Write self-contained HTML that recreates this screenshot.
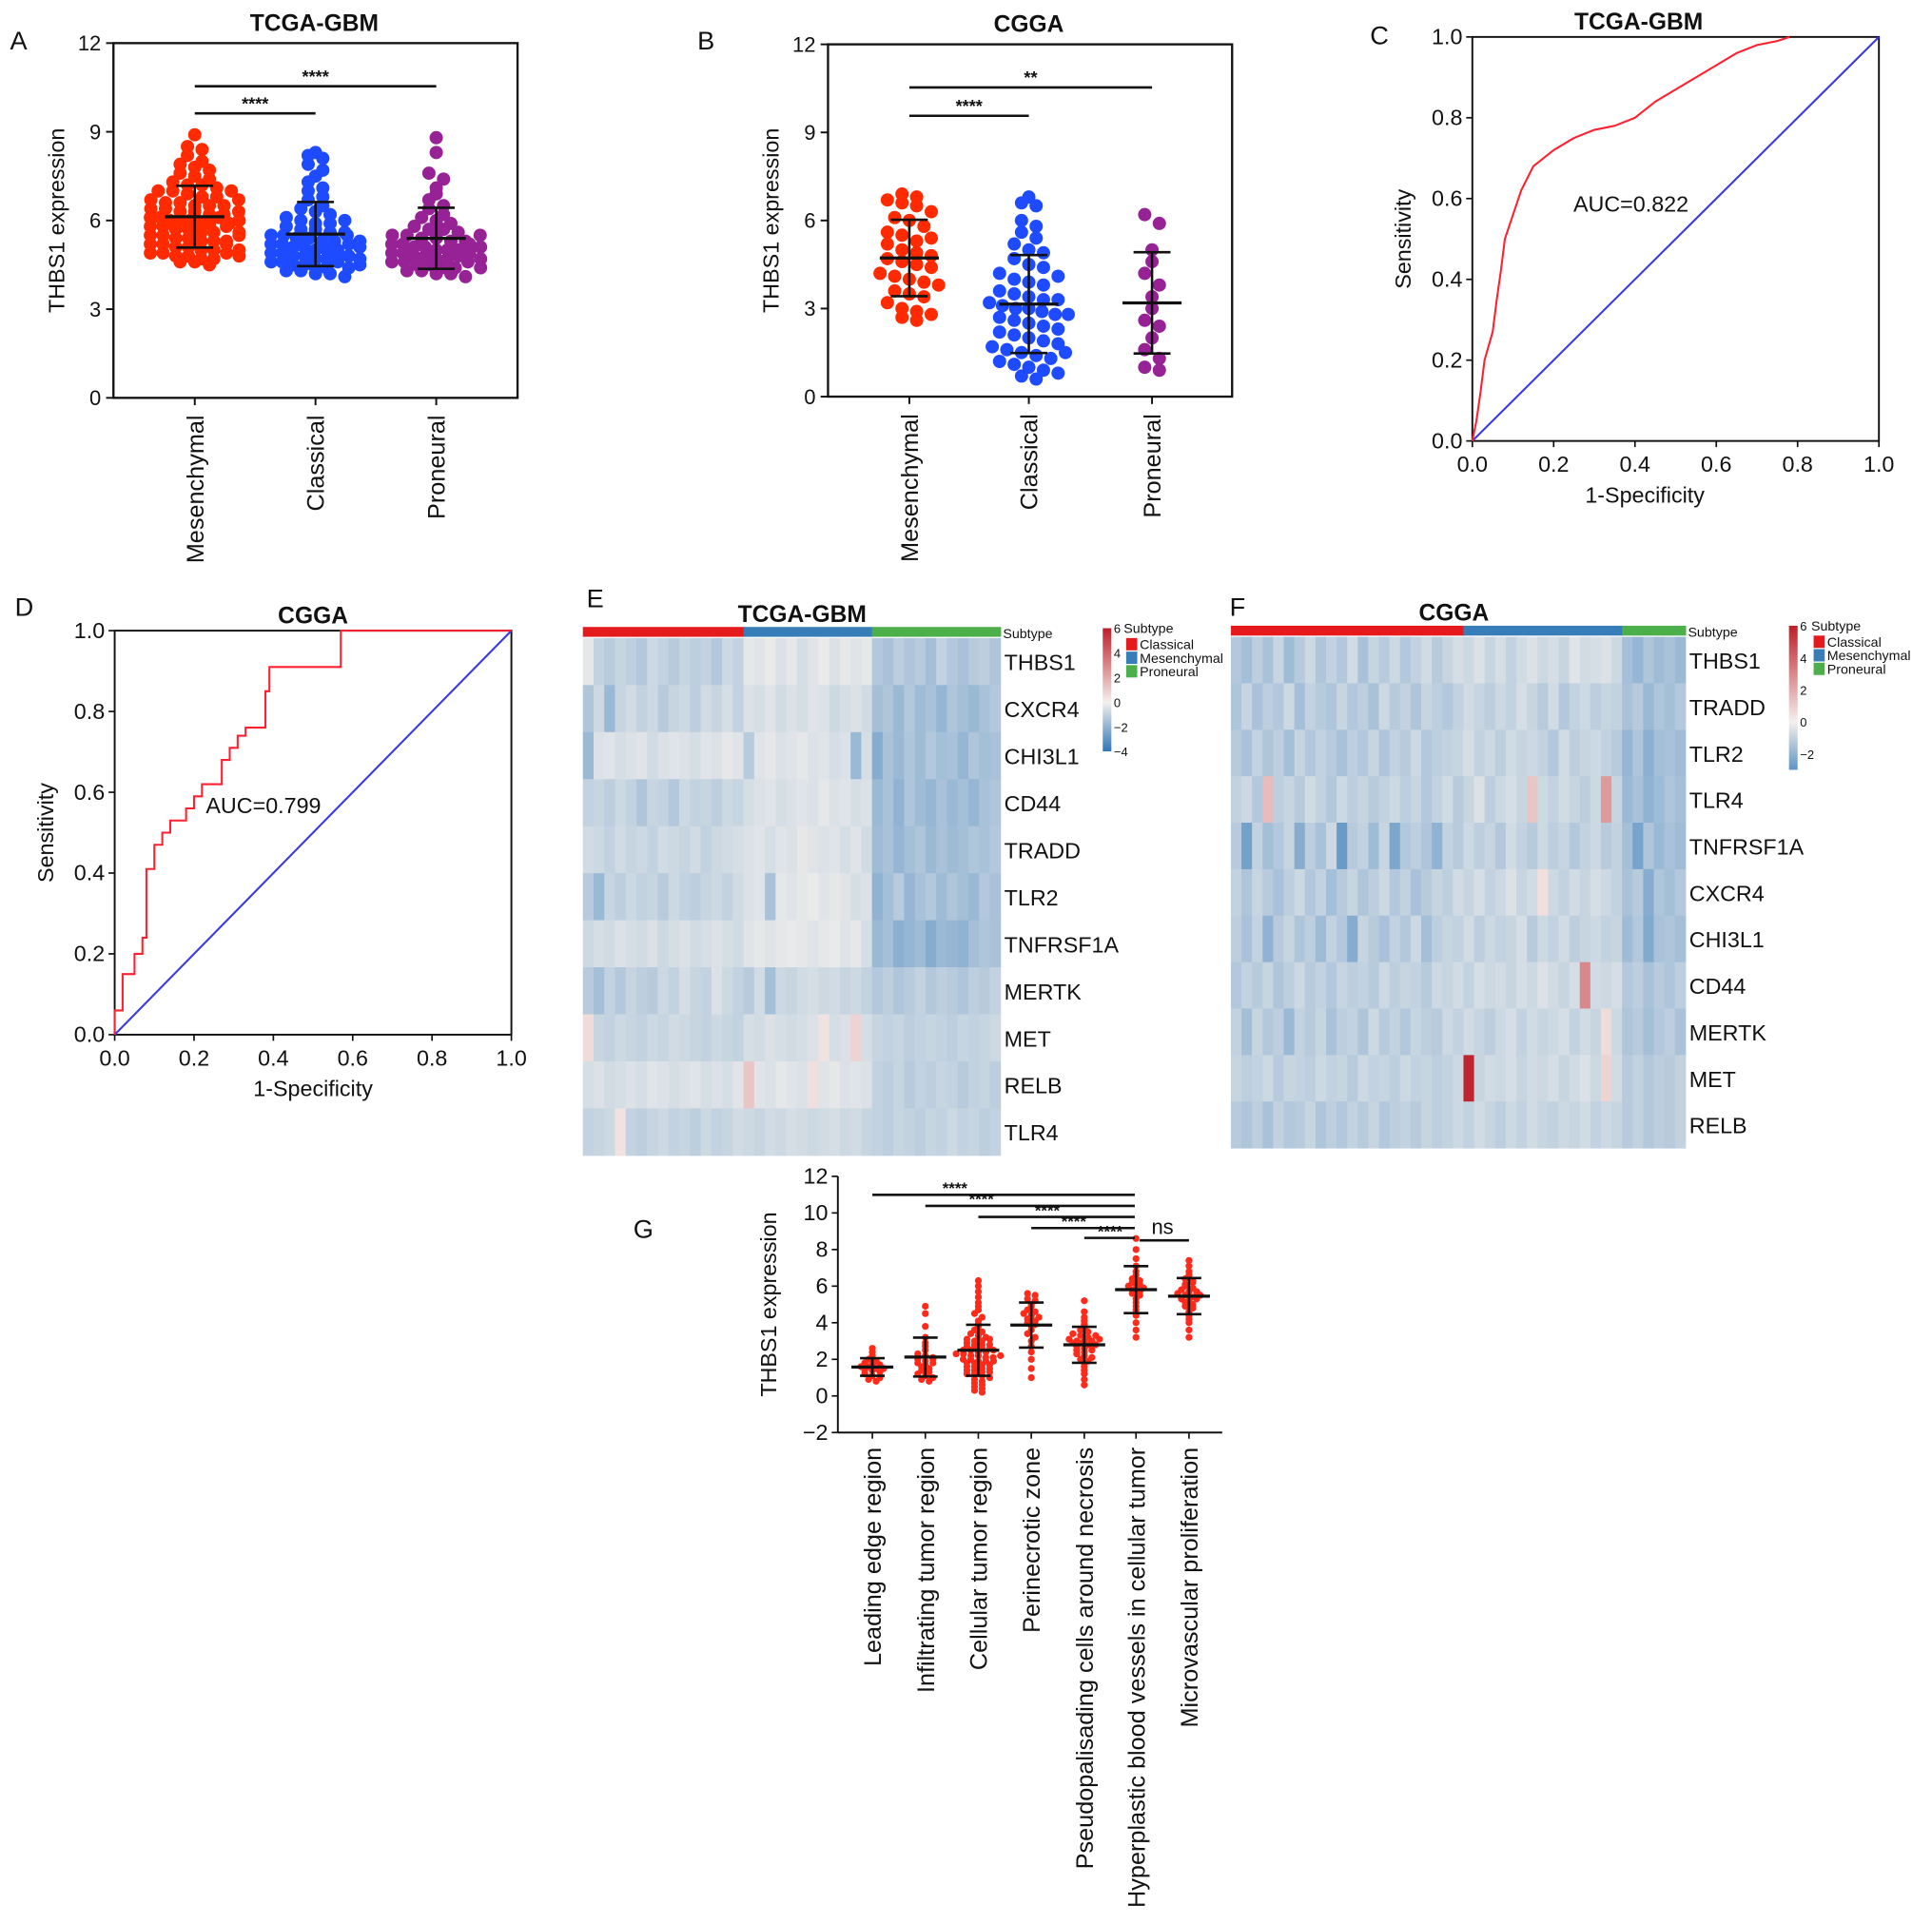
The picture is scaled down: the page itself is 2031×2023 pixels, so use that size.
<!DOCTYPE html>
<html><head><meta charset="utf-8"><style>
html,body{margin:0;padding:0;background:#fff;}
svg{display:block;font-family:"Liberation Sans",Arial,sans-serif;}
</style></head><body>
<svg id="fig" xmlns="http://www.w3.org/2000/svg" width="2031" height="2023" viewBox="0 0 1568 1562">
<rect width="1568" height="1562" fill="#fff"/>
</svg>
<script>
// ---------- DATA ----------
const catsAB = ["Mesenchymal","Classical","Proneural"];
const aMes = [8.9,8.5,8.4,8.2,8.0,7.9,7.8,7.7,7.6,7.5,7.4,7.3,7.2,7.2,7.1,7.0,7.0,6.9,6.8,6.8,6.7,6.6,6.6,6.5,6.5,6.4,6.4,6.3,6.3,6.2,6.2,6.1,6.1,6.0,6.0,6.0,5.9,5.9,5.8,5.8,5.7,5.7,5.6,5.6,5.5,5.5,5.4,5.4,5.3,5.3,5.2,5.2,5.1,5.1,5.0,5.0,4.9,4.9,4.8,4.8,4.7,4.7,4.6,4.6,4.5,5.8,6.5,6.1,5.6,5.3,4.9,6.7,7.0,5.5,6.3,5.9,5.2,4.8,5.0,6.0];
const aCla = [8.3,8.2,8.1,7.9,7.7,7.5,7.3,7.1,7.0,6.8,6.7,6.5,6.4,6.3,6.2,6.1,6.0,5.9,5.9,5.8,5.7,5.7,5.6,5.5,5.5,5.4,5.4,5.3,5.3,5.2,5.2,5.1,5.1,5.0,5.0,4.9,4.9,4.8,4.8,4.7,4.7,4.6,4.6,4.5,4.5,4.4,4.4,4.3,4.3,4.2,4.2,4.1,5.0,5.2,4.9,5.5,4.6,4.8,5.1,5.3,4.4,4.7,5.6,6.0,4.5];
const aPro = [8.8,8.3,7.6,7.4,7.1,6.9,6.7,6.5,6.4,6.2,6.1,6.0,5.9,5.8,5.7,5.7,5.6,5.5,5.5,5.4,5.4,5.3,5.3,5.2,5.2,5.1,5.1,5.0,5.0,4.9,4.9,4.8,4.8,4.7,4.7,4.6,4.6,4.5,4.5,4.4,4.4,4.3,4.3,4.2,4.2,4.1,5.0,4.8,5.2,4.6,4.9,5.5,4.4,5.1,4.7];
const bMes = [6.9,6.8,6.7,6.6,6.5,6.3,6.1,6.0,5.8,5.6,5.5,5.3,5.2,5.0,4.9,4.8,4.7,4.6,4.5,4.4,4.2,4.1,4.0,3.9,3.8,3.6,3.5,3.4,3.2,3.0,2.9,2.8,2.7,2.6,5.4];
const bCla = [6.8,6.6,6.5,6.0,5.8,5.6,5.4,5.2,5.0,4.9,4.7,4.5,4.4,4.2,4.0,3.9,3.8,3.6,3.5,3.4,3.3,3.2,3.1,3.0,3.0,2.9,2.8,2.7,2.6,2.5,2.4,2.3,2.2,2.1,2.0,1.9,1.8,1.7,1.6,1.5,1.4,1.3,1.2,1.1,1.0,0.9,0.8,0.7,0.6,3.3,2.8,1.5,4.1];
const bPro = [6.2,5.9,5.0,4.6,4.2,3.8,3.4,3.0,2.6,2.4,2.0,1.6,1.3,1.0,0.9];
const rocCfpr = [0,0.01,0.02,0.03,0.05,0.06,0.07,0.08,0.10,0.12,0.15,0.20,0.25,0.30,0.35,0.40,0.45,0.50,0.55,0.60,0.65,0.70,0.75,0.78];
const rocCtpr = [0,0.05,0.12,0.20,0.27,0.35,0.42,0.50,0.56,0.62,0.68,0.72,0.75,0.77,0.78,0.80,0.84,0.87,0.90,0.93,0.96,0.98,0.99,1.0];
const rocDfpr = [0,0.02,0.05,0.07,0.08,0.10,0.12,0.14,0.18,0.20,0.22,0.27,0.29,0.31,0.33,0.38,0.39,0.57,1.0];
const rocDtpr = [0.06,0.15,0.20,0.24,0.41,0.47,0.50,0.53,0.56,0.59,0.62,0.68,0.71,0.74,0.76,0.85,0.91,1.0,1.0];
const genesE = ["THBS1","CXCR4","CHI3L1","CD44","TRADD","TLR2","TNFRSF1A","MERTK","MET","RELB","TLR4"];
const genesF = ["THBS1","TRADD","TLR2","TLR4","TNFRSF1A","CXCR4","CHI3L1","CD44","MERTK","MET","RELB"];
const subtypesE = ["Classical","Mesenchymal","Proneural"];
const subtypeCountsE = [15,12,12];
const subtypeCountsF = [22,15,6];
const heatE = [
[-0.3,-1,-1.2,-0.9,-1.1,-1.3,-0.8,-1,-1.2,-0.9,-1.1,-1,-1.3,-0.8,-1,-0.3,-0.4,-0.2,-0.5,-0.3,-0.6,-0.4,-0.2,-0.5,-0.3,-0.4,-0.3,-1.3,-1.5,-1.1,-1.4,-1.2,-1.6,-1.0,-1.3,-1.5,-1.2,-1.1,-1.4],
[-1.4,-0.8,-1.8,-0.9,-0.7,-1,-0.8,-1.2,-0.9,-0.8,-1.1,-0.7,-0.9,-0.6,-1,-0.5,-0.6,-0.4,-0.7,-0.5,-0.6,-0.4,-0.5,-0.8,-0.6,-0.5,-0.7,-1.6,-1.4,-1.8,-1.3,-1.7,-1.5,-1.9,-1.4,-1.6,-1.8,-1.5,-1.3],
[-1.8,-0.5,-0.4,-0.6,-0.5,-0.4,-0.7,-0.5,-0.4,-0.5,-0.6,-0.4,-0.5,-0.3,-0.4,-1.2,-0.4,-0.3,-0.5,-0.4,-0.3,-0.5,-0.4,-0.6,-0.5,-1.8,-0.6,-2.2,-1.5,-1.8,-1.4,-1.7,-1.3,-1.6,-1.5,-1.9,-1.4,-1.6,-1.5],
[-1.0,-0.9,-1.1,-0.8,-1.0,-1.4,-0.9,-1,-1.3,-0.8,-1,-0.9,-1.1,-0.8,-0.9,-0.6,-0.5,-0.4,-0.6,-0.5,-0.4,-0.5,-0.3,-0.5,-0.4,-0.6,-0.5,-1.8,-1.5,-2.0,-1.4,-1.7,-1.9,-1.5,-1.8,-1.6,-1.9,-1.5,-1.4],
[-0.7,-0.8,-1.0,-0.7,-0.9,-0.8,-1.0,-0.7,-0.8,-0.9,-0.7,-1.0,-0.8,-0.7,-0.6,-0.5,-0.4,-0.6,-0.4,-0.5,-0.3,-0.4,-0.5,-0.4,-0.6,-0.4,-0.7,-1.7,-1.5,-1.9,-1.6,-1.4,-1.8,-1.5,-1.7,-1.6,-1.4,-1.5,-1.3],
[-1.2,-1.8,-0.9,-1.1,-0.8,-1.0,-0.9,-1.2,-0.8,-1.0,-1.1,-0.9,-0.8,-1.0,-0.7,-0.5,-0.4,-1.5,-0.3,-0.4,-0.3,-0.2,-0.4,-0.3,-0.4,-0.6,-0.5,-2.0,-1.6,-1.2,-1.9,-1.5,-1.3,-1.7,-1.4,-1.6,-1.8,-1.3,-1.5],
[-0.8,-0.6,-0.7,-0.5,-0.6,-0.7,-0.5,-0.8,-0.6,-0.5,-0.7,-0.6,-0.5,-0.6,-0.7,-0.4,-0.3,-0.4,-0.3,-0.2,-0.3,-0.4,-0.3,-0.2,-0.4,-0.3,-0.6,-1.8,-1.6,-2.1,-1.9,-1.7,-2.2,-1.8,-1.9,-2.0,-1.6,-1.4,-1.5],
[-1.2,-1.6,-1.0,-1.3,-0.9,-1.1,-1.2,-0.8,-1.0,-0.6,-0.9,-1.0,-0.5,-0.8,-1.0,-1.2,-0.7,-1.6,-0.8,-0.9,-0.7,-0.6,-0.8,-0.7,-0.9,-0.8,-1.0,-1.3,-1.1,-1.4,-1.2,-1.0,-1.3,-1.1,-1.2,-1.4,-1.1,-1.2,-1.0],
[0.6,-0.9,-1.0,-0.8,-0.9,-1.0,-0.8,-0.9,-0.7,-0.8,-0.9,-1.0,-0.8,-0.9,-1.0,-0.6,-0.7,-0.5,-0.6,-0.7,-0.6,-0.5,0.4,-0.6,-0.5,0.8,-0.6,-0.9,-1.0,-0.9,-1.1,-1.0,-0.9,-1.0,-1.1,-0.9,-1.0,-0.9,-0.8],
[-0.6,-0.5,-0.7,-0.6,-0.5,-0.6,-0.4,-0.5,-0.6,-0.5,-0.4,-0.6,-0.5,-0.6,-0.4,1.2,-0.4,-0.5,-0.3,-0.4,-0.5,0.5,-0.4,-0.3,-0.5,-0.4,-0.5,-1.0,-1.1,-0.9,-1.2,-1.0,-1.1,-0.9,-1.0,-1.2,-1.0,-0.9,-1.1],
[-1.0,-0.9,-0.8,0.4,-1.0,-1.1,-0.9,-0.8,-1.0,-0.9,-1.1,-0.8,-1.0,-0.9,-0.7,-0.8,-0.9,-0.7,-0.8,-0.6,-0.7,-0.8,-0.7,-0.6,-0.8,-0.7,-0.9,-1.0,-1.1,-0.9,-1.0,-1.1,-0.9,-1.0,-0.8,-1.0,-0.9,-1.1,-1.0]
];
const heatF = [
[-1.3,-1.6,-1.1,-1.5,-0.9,-1.7,-1.2,-0.8,-1.4,-1.0,-1.3,-0.7,-1.5,-0.9,-1.2,-0.8,-1.3,-1.0,-0.7,-1.2,-0.9,-0.6,-0.8,-0.5,-0.9,-0.6,-1.0,-0.7,-0.5,-0.8,-0.6,-0.9,-0.4,-0.7,-0.6,-0.5,-0.8,-1.6,-1.9,-1.4,-1.7,-1.5,-1.8],
[-1.4,-0.9,-1.5,-1.1,-1.3,-0.8,-1.6,-1.0,-1.2,-1.4,-0.9,-1.3,-1.1,-1.5,-0.8,-1.2,-1.0,-1.4,-0.9,-1.1,-1.3,-1.0,-0.7,-0.9,-1.1,-0.8,-1.0,-0.6,-0.9,-1.2,-0.7,-1.3,-1.0,-0.8,-1.1,-0.9,-1.0,-1.5,-1.2,-1.8,-1.4,-1.6,-1.3],
[-1.2,-1.5,-1.0,-1.4,-1.1,-1.6,-0.9,-1.3,-1.0,-1.2,-1.5,-1.1,-1.3,-0.9,-1.4,-1.0,-1.2,-0.8,-1.3,-1.1,-1.0,-0.9,-0.6,-1.0,-0.8,-1.1,-0.7,-0.9,-0.8,-1.0,-1.3,-0.7,-1.1,-0.9,-0.8,-1.0,-1.2,-1.9,-1.4,-2.1,-1.6,-1.5,-1.7],
[-1.0,-0.8,-1.3,1.5,-1.1,-0.9,-1.2,-0.7,-1.0,-1.3,-0.8,-1.1,-0.9,-1.2,-1.0,-0.8,-1.1,-0.9,-1.3,-1.0,-0.7,-1.2,-0.9,-0.5,-1.1,-0.8,-0.6,-0.9,1.2,-0.8,-1.0,-0.7,-0.9,-1.1,-0.8,2.5,-0.9,-1.8,-1.5,-2.0,-1.7,-1.4,-1.6],
[-1.2,-2.6,-1.0,-1.6,-1.3,-0.9,-2.2,-1.1,-1.5,-0.8,-2.8,-1.2,-1.0,-1.7,-0.9,-2.4,-1.3,-1.1,-1.4,-2.0,-1.0,-1.2,-0.8,-1.1,-0.9,-1.3,-0.7,-1.0,-1.2,-0.8,-1.1,-0.9,-1.3,-1.0,-0.8,-1.2,-1.0,-1.6,-2.5,-1.4,-1.8,-1.5,-1.7],
[-1.0,-1.4,-0.9,-1.2,-1.5,-1.1,-0.8,-1.3,-1.0,-1.6,-1.2,-0.9,-1.4,-1.1,-0.8,-1.3,-1.0,-1.5,-1.2,-0.9,-1.1,-0.7,-0.9,-0.6,-1.0,-0.8,-0.5,-0.9,-0.7,0.5,-0.8,-1.0,-0.7,-0.9,-0.6,-0.8,-1.0,-1.5,-1.2,-2.2,-1.4,-1.6,-1.3],
[-1.1,-1.5,-1.0,-2.0,-1.2,-0.9,-1.4,-1.1,-1.7,-1.0,-1.3,-2.2,-0.9,-1.2,-1.5,-1.0,-1.3,-0.8,-1.6,-1.1,-0.9,-1.0,-0.7,-1.1,-0.8,-1.0,-0.9,-0.6,-1.2,-0.8,-1.0,-0.7,-1.1,-0.9,-0.8,-1.0,-0.9,-1.7,-1.3,-2.3,-1.5,-1.4,-1.6],
[-1.3,-1.0,-1.2,-0.9,-1.4,-1.1,-0.8,-1.2,-1.0,-1.3,-0.9,-1.1,-1.0,-1.2,-0.8,-1.1,-0.9,-1.0,-1.2,-0.8,-0.9,-0.7,-1.0,-0.6,-0.8,-0.7,-0.9,-0.6,-0.8,-0.5,-0.7,-0.9,-0.6,3.0,-0.7,-0.8,-0.6,-1.3,-1.1,-1.5,-1.2,-1.4,-1.1],
[-1.0,-1.6,-0.9,-1.3,-1.1,-1.8,-1.0,-1.2,-0.9,-1.5,-1.1,-1.0,-1.4,-0.8,-1.2,-1.0,-1.3,-0.9,-1.1,-1.2,-0.8,-1.0,-0.7,-0.9,-1.1,-0.8,-0.6,-1.0,-0.7,-0.9,-0.8,-0.6,-1.0,-0.7,-0.9,0.6,-0.8,-1.4,-1.2,-1.6,-1.3,-1.1,-1.5],
[-0.9,-1.1,-1.0,-0.8,-1.2,-0.9,-1.0,-1.1,-0.8,-1.0,-0.9,-1.2,-0.8,-1.0,-0.9,-1.1,-0.8,-1.0,-0.9,-1.1,-1.0,-0.8,5.8,-0.9,-0.7,-0.8,-0.6,-0.9,-0.7,-0.8,-0.6,-0.9,-0.7,-0.5,-0.8,0.8,-0.7,-1.2,-1.0,-1.3,-1.1,-1.2,-1.0],
[-1.2,-1.4,-1.1,-1.5,-1.0,-1.3,-1.2,-0.9,-1.4,-1.1,-1.3,-1.0,-1.2,-0.9,-1.3,-1.1,-1.0,-1.2,-0.9,-1.1,-1.0,-0.8,-1.0,-0.7,-0.9,-1.1,-0.8,-1.0,-0.7,-0.9,-1.0,-0.8,-0.9,-0.7,-1.0,-0.8,-0.9,-1.2,-1.0,-1.3,-1.1,-1.2,-1.0]
];
const catsG = ["Leading edge region","Infiltrating tumor region","Cellular tumor region","Perinecrotic zone","Pseudopalisading cells around necrosis","Hyperplastic blood vessels in cellular tumor","Microvascular proliferation"];
const gLE = [2.6,2.4,2.2,2.0,1.9,1.8,1.7,1.6,1.6,1.5,1.4,1.4,1.3,1.2,1.1,1.0,0.9,0.8,1.7,1.5];
const gIT = [4.9,4.5,3.8,3.2,2.9,2.7,2.5,2.3,2.2,2.1,2.0,1.9,1.8,1.7,1.6,1.5,1.4,1.3,1.2,1.1,1.0,0.9,0.8,2.0,1.8];
const gCT = [6.3,6.0,5.7,5.4,5.1,4.9,4.7,4.5,4.3,4.1,3.9,3.8,3.6,3.5,3.4,3.3,3.2,3.1,3.0,3.0,2.9,2.8,2.8,2.7,2.7,2.6,2.6,2.5,2.5,2.4,2.4,2.3,2.3,2.2,2.2,2.1,2.1,2.0,2.0,1.9,1.9,1.8,1.8,1.7,1.7,1.6,1.6,1.5,1.5,1.4,1.4,1.3,1.3,1.2,1.2,1.1,1.0,0.9,0.8,0.7,0.6,0.5,0.4,0.3,0.2,2.5,2.2,1.9,2.8,3.1];
const gPN = [5.6,5.5,5.3,5.2,5.0,4.9,4.7,4.6,4.5,4.4,4.3,4.2,4.1,4.0,3.9,3.8,3.6,3.4,3.2,3.0,2.7,2.4,2.0,1.5,1.0];
const gPS = [5.2,4.6,4.3,4.1,3.9,3.7,3.6,3.5,3.4,3.3,3.2,3.1,3.0,3.0,2.9,2.9,2.8,2.8,2.7,2.6,2.5,2.4,2.3,2.2,2.1,2.0,1.9,1.8,1.6,1.4,1.2,0.9,0.6,3.0,2.7,3.3,2.5,3.1];
const gHB = [8.6,8.0,7.5,7.1,6.8,6.6,6.4,6.2,6.1,6.0,5.9,5.8,5.6,5.5,5.3,5.1,4.9,4.7,4.4,4.0,3.6,3.2,5.9,6.3,5.7];
const gMV = [7.4,7.1,6.8,6.6,6.4,6.3,6.1,6.0,5.9,5.8,5.7,5.6,5.5,5.4,5.3,5.2,5.1,5.0,4.9,4.8,4.6,4.4,4.2,4.0,3.6,3.2,5.5,5.7,5.3,6.2];

// ---------- HELPERS ----------
const svg = document.getElementById('fig');
const NS = 'http://www.w3.org/2000/svg';
function mk(tag, attrs, parent){const e=document.createElementNS(NS,tag);for(const k in attrs)e.setAttribute(k,attrs[k]);(parent||svg).appendChild(e);return e;}
function txt(s, x, y, size, anchor, parent, extra){const e=mk('text',Object.assign({x:x,y:y,'font-size':size,'text-anchor':anchor||'middle',fill:'#111'},extra||{}),parent);e.textContent=s;return e;}
function lin(x1,y1,x2,y2,col,w,parent){return mk('line',{x1:x1,y1:y1,x2:x2,y2:y2,stroke:col||'#111','stroke-width':w||1.5},parent);}
function meanSd(a){const m=a.reduce((s,v)=>s+v,0)/a.length;const sd=Math.sqrt(a.reduce((s,v)=>s+(v-m)*(v-m),0)/(a.length-1));return [m,sd];}

function swarm(g, vals, cx, yf, r, maxHalf, color, binU){
  const bins={};
  vals.forEach(v=>{const b=Math.round(v/binU);(bins[b]=bins[b]||[]).push(v);});
  Object.keys(bins).forEach(b=>{
    const arr=bins[b];const n=arr.length;
    const sp=n>1?Math.min(r*2.2,(2*maxHalf)/(n-1)):0;
    arr.forEach((v,i)=>{
      const d=mk('circle',{cx:cx+(i-(n-1)/2)*sp,cy:yf(v),r:r,fill:color},g);
      
      
    });
  });
}
function errBar(g, vals, cx, yf, half, cap){
  const [m,sd]=meanSd(vals);
  lin(cx,yf(m-sd),cx,yf(m+sd),'#111',2,g);
  const a=lin(cx-half,yf(m),cx+half,yf(m),'#111',2.5,g);
  
  
  lin(cx-cap,yf(m+sd),cx+cap,yf(m+sd),'#111',2,g);
  lin(cx-cap,yf(m-sd),cx+cap,yf(m-sd),'#111',2,g);
}
function panelLetter(s,x,y){const t=txt(s,x,y,21,'start');}

// ---------- DOT PANELS A & B ----------
function dotPanel(id, title, box, ymax, ystep, groups, colors, sig, titleX){
  const g=mk('g',{});
  
  
  const yf=v=>box.b-(v/ymax)*(box.b-box.t);
  const frame=mk('rect',{x:box.l,y:box.t,width:box.r-box.l,height:box.b-box.t,fill:'none',stroke:'#111','stroke-width':1.8},g);
  
  
  for(let v=0;v<=ymax;v+=ystep){lin(box.l-6,yf(v),box.l,yf(v),'#111',1.5,g);const t=txt(String(v),box.l-10,yf(v)+6,17,'end',g);}
  const tt=txt(title,titleX,box.t-10,19,'middle',g,{'font-weight':'bold'});
  
  
  const yl=txt('THBS1 expression',0,0,18,'middle',g,{transform:`translate(${box.l-40},${(box.t+box.b)/2}) rotate(-90)`});
  
  
  groups.forEach((vals,i)=>{
    const cx=box.cx[i];
    lin(cx,box.b,cx,box.b+6,'#111',1.5,g);
    swarm(g,vals,cx,yf,box.r0,box.half,colors[i],box.binU);
    errBar(g,vals,cx,yf,24,15);
    const xl=txt(catsAB[i],0,0,19.5,'end',g,{transform:`translate(${cx+7},${box.b+14}) rotate(-90)`});
    
    
  });
  sig.forEach(s=>{const l=lin(box.cx[s.a],s.y,box.cx[s.b],s.y,'#111',2,g);const t=txt(s.t,(box.cx[s.a]+box.cx[s.b])/2,s.y-3,14,'middle',g,{'font-weight':'bold'});});
}
panelLetter('A',8,40);
dotPanel('a','TCGA-GBM',{l:92,r:420,t:35,b:323,cx:[158,256,354],r0:5.4,half:36,binU:0.3},12,3,[aMes,aCla,aPro],['#ff2a00','#1e4bff','#962296'],
  [{a:0,b:1,y:92,t:'****'},{a:0,b:2,y:70,t:'****'}],255);
panelLetter('B',566,40);
dotPanel('b','CGGA',{l:672,r:1000,t:36,b:322,cx:[738,835,935],r0:5.4,half:32,binU:0.5},12,3,[bMes,bCla,bPro],['#ff2a00','#1e4bff','#962296'],
  [{a:0,b:1,y:94,t:'****'},{a:0,b:2,y:71,t:'**'}],835);

// ---------- ROC PANELS ----------
function rocPanel(id,title,box,fpr,tpr,auc,aucPos,step){
  const g=mk('g',{});
  
  
  const xf=v=>box.l+v*(box.r-box.l), yf=v=>box.b-v*(box.b-box.t);
  const f=mk('rect',{x:box.l,y:box.t,width:box.r-box.l,height:box.b-box.t,fill:'none',stroke:'#111','stroke-width':1.5},g);
  
  
  const ticks=[0,0.2,0.4,0.6,0.8,1.0];
  ticks.forEach(v=>{
    lin(xf(v),box.b,xf(v),box.b+5,'#111',1.3,g);lin(box.l-5,yf(v),box.l,yf(v),'#111',1.3,g);
    const a=txt(v.toFixed(1),xf(v),box.b+25,18,'middle',g);
    const b=txt(v.toFixed(1),box.l-8,yf(v)+6,18,'end',g);
  });
  const t=txt(title,(box.l+box.r)/2-(id==='c'?30:0),box.t-6,19,'middle',g,{'font-weight':'bold'});
  const xl=txt('1-Specificity',(box.l+box.r)/2-(id==='c'?25:0),box.b+50,18,'middle',g);
  const yl=txt('Sensitivity',0,0,18,'middle',g,{transform:`translate(${box.l-50},${(box.t+box.b)/2}) rotate(-90)`});
  const d=lin(xf(0),yf(0),xf(1),yf(1),'#3a3ae0',1.6,g);
  let p='';
  if(step){p=`M${xf(0)},${yf(0)}`;let py=yf(0);fpr.forEach((x,i)=>{p+=` L${xf(x)},${py} L${xf(x)},${yf(tpr[i])}`;py=yf(tpr[i]);});}
  else{p=fpr.map((x,i)=>(i?'L':'M')+xf(x)+','+yf(tpr[i])).join(' ');}
  const c=mk('path',{d:p,fill:'none',stroke:'#ff2030','stroke-width':1.6},g);
  const at=txt(auc,aucPos[0],aucPos[1],18,'start',g);
}
panelLetter('C',1112,36);
rocPanel('c','TCGA-GBM',{l:1195,r:1525,t:30,b:358},rocCfpr,rocCtpr,'AUC=0.822',[1277,172],false);
panelLetter('D',12,500);
rocPanel('d','CGGA',{l:93,r:415,t:512,b:840},rocDfpr,rocDtpr,'AUC=0.799',[167,660],true);

// ---------- HEATMAPS ----------
const subColors=['#e41a1c','#377eb8','#4daf4a'];
function heatColor(v,neg){
  const w=[244,240,237];
  if(v<0){const t=Math.min(1,-v/neg);const b=[44,118,184];return `rgb(${w.map((c,i)=>Math.round(c+(b[i]-c)*t)).join(',')})`;}
  const t=Math.min(1,v/6);const r=[190,30,40];return `rgb(${w.map((c,i)=>Math.round(c+(r[i]-c)*t)).join(',')})`;
}
function heatPanel(id,title,box,genes,data,counts,neg,cbar,legX,cbTicks){
  const g=mk('g',{});
  
  
  const ncol=data[0].length, cw=(box.r-box.l)/ncol, rh=(box.b-box.t0)/genes.length;
  let c0=0;
  counts.forEach((n,k)=>{const r=mk('rect',{x:box.l+c0*cw,y:box.st,width:n*cw+0.5,height:8,fill:subColors[k]},g);c0+=n;});
  const sl=txt('Subtype',box.r+2,box.st+9,11,'start',g);
  data.forEach((row,ri)=>{
    row.forEach((v,ci)=>{
      const c=mk('rect',{x:box.l+ci*cw,y:box.t0+ri*rh,width:cw+0.4,height:rh+0.4,fill:heatColor(v,neg)},g);
      
      
    });
    const gl=txt(genes[ri],box.r+3,box.t0+ri*rh+rh/2+7,18,'start',g);
  });
  const t=txt(title,box.tx,box.st-4,19,'middle',g,{'font-weight':'bold'});
  const defs=mk('defs',{},g);const lg=mk('linearGradient',{id:'cb'+id,x1:0,y1:0,x2:0,y2:1},defs);
  mk('stop',{offset:'0','stop-color':heatColor(6,neg)},lg);mk('stop',{offset:String(6/(6+cbar.min)),'stop-color':heatColor(0,neg)},lg);mk('stop',{offset:'1','stop-color':heatColor(-cbar.min,neg)},lg);
  const cb=mk('rect',{x:cbar.x,y:cbar.t,width:7,height:cbar.b-cbar.t,fill:`url(#cb${id})`},g);
  cbTicks.forEach(v=>{const y=cbar.t+(6-v)/(6+cbar.min)*(cbar.b-cbar.t);const tl=txt(v<0?'\u2212'+(-v):String(v),cbar.x+9,y+4,10,'start',g);});
  const lt=txt('Subtype',legX,cbar.t+4,11,'start',g);
  subtypesE.forEach((s,k)=>{const y=cbar.t+8+k*11;const r=mk('rect',{x:legX+2,y:y,width:9,height:10,fill:subColors[k]},g);const l=txt(s,legX+13,y+9,11,'start',g);});
}
panelLetter('E',476,493);
heatPanel('e','TCGA-GBM',{l:473,r:812,st:509,t0:518,b:938,tx:651},genesE,heatE,subtypeCountsE,4,{x:895,t:510,b:610,min:4},912,[6,4,2,0,-2,-4]);
panelLetter('F',998,500);
heatPanel('f','CGGA',{l:999,r:1368,st:508,t0:517,b:932,tx:1180},genesF,heatF,subtypeCountsF,4,{x:1452,t:508,b:625,min:3},1470,[6,4,2,0,-2]);

// ---------- PANEL G ----------
(function(){
  const g=mk('g',{});
  
  
  const box={l:680,r:992,t:955,b:1163};
  const yf=v=>box.b-(v+2)/14*(box.b-box.t);
  const cx=[708,751,794,837,880,922,965];
  lin(box.l,box.t,box.l,box.b,'#111',1.5,g);lin(box.l,box.b,box.r,box.b,'#111',1.5,g);
  for(let v=-2;v<=12;v+=2){lin(box.l-5,yf(v),box.l,yf(v),'#111',1.3,g);const t=txt(v<0?'\u2212'+(-v):String(v),box.l-8,yf(v)+6,18,'end',g);}
  const yl=txt('THBS1 expression',0,0,18,'middle',g,{transform:`translate(${box.l-50},${(box.t+box.b)/2}) rotate(-90)`});
  [gLE,gIT,gCT,gPN,gPS,gHB,gMV].forEach((vals,i)=>{
    lin(cx[i],box.b,cx[i],box.b+5,'#111',1.3,g);
    swarm(g,vals,cx[i],yf,2.8,18,'#ff2a1a',0.22);
    errBar(g,vals,cx[i],yf,17,10);
    const xl=txt(catsG[i],0,0,19.5,'end',g,{transform:`translate(${cx[i]+7},${box.b+12}) rotate(-90)`});
  });
  const sig=[[0,5,970],[1,5,979],[2,5,988],[3,5,997],[4,5,1005]];
  sig.forEach(s=>{const l=lin(cx[s[0]],s[2],cx[s[1]]-1,s[2],'#111',2,g);const t=txt('****',(cx[s[0]]+cx[s[1]])/2-(s[0]<2?40:(s[0]<4?8:0)),s[2]-1,13,'middle',g,{'font-weight':'bold'});});
  const ns=lin(cx[5]+3,1007,cx[6],1007,'#111',2,g);
  const nt=txt('ns',(cx[5]+cx[6])/2,1002,17,'middle',g);
})();
panelLetter('G',514,1005);
</script>
</body></html>
